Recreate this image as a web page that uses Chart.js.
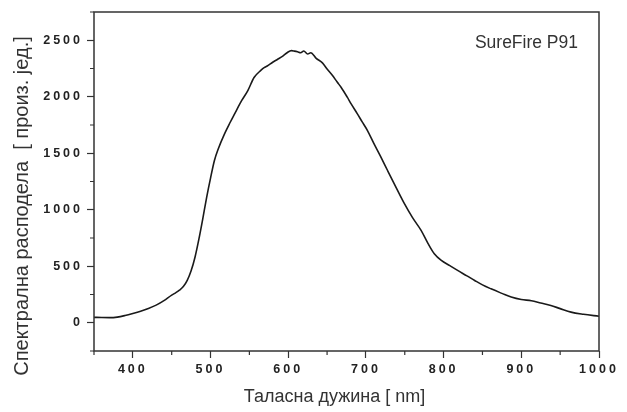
<!DOCTYPE html>
<html><head><meta charset="utf-8">
<script src="https://cdn.jsdelivr.net/npm/chart.js@4/dist/chart.umd.min.js"></script>
<style>html,body{margin:0;padding:0;background:#fff}</style>
</head><body>
<canvas id="c" width="627" height="412"></canvas>
<script>
// Spectral distribution of SureFire P91
const wavelengths = [350,360,370,380,390,400,410,420,430,440,450,455,460,465,470,475,480,485,490,495,500,505,510,518,525,531,540,548,556,565,569,573,580,586,593,599,604,608,612,616,620,625,629,636,644,650,657,663,668,676,681,689,695,702,710,719,728,736,749,760,771,780,788,797,808,818,830,840,850,861,875,887,900,913,925,938,950,964,980,1000];
const intensities = [48,46,45,50,64,82,102,126,156,196,245,265,288,320,375,460,580,740,920,1110,1280,1436,1540,1672,1770,1849,1965,2055,2170,2235,2258,2272,2305,2330,2360,2392,2408,2404,2398,2390,2405,2378,2390,2340,2300,2245,2188,2130,2084,1996,1937,1849,1780,1701,1590,1470,1345,1235,1060,930,817,700,610,551,505,463,415,374,335,300,260,227,205,195,175,153,125,94,75,58];
const xTickLabels = [400,500,600,700,800,900,1000];
const yTickLabels = [0,500,1000,1500,2000,2500];
const seriesLabel = 'SureFire P91';
const xTitle = 'Таласна дужина [ nm]';
const yTitle = 'Спектрална расподела  [ произ. јед.]';

const AX = '#333333';
const TXT = '#333333';

const framePlugin = {
  id: 'frame',
  beforeDraw(chart) {
    // shift the axis titles to where the reference places them
    const y = chart.scales.y, x = chart.scales.x;
    chart._saved = {yb: y.bottom, yt: y.top, xl: x.left};
    y.bottom += 49;
    x.left -= 24;
  },
  afterDatasetsDraw(chart) {
    const {ctx, chartArea: a, scales} = chart;
    ctx.save();
    ctx.strokeStyle = AX;
    ctx.lineWidth = 1.5;
    ctx.strokeRect(a.left, a.top, a.right - a.left, a.bottom - a.top);
    // minor ticks
    ctx.lineWidth = 1.2;
    ctx.beginPath();
    scales.x.ticks.forEach(t => {
      if (!xTickLabels.includes(t.value)) {
        const px = scales.x.getPixelForValue(t.value);
        ctx.moveTo(px, a.bottom); ctx.lineTo(px, a.bottom + 4);
      }
    });
    scales.y.ticks.forEach(t => {
      if (!yTickLabels.includes(t.value)) {
        const py = scales.y.getPixelForValue(t.value);
        ctx.moveTo(a.left, py); ctx.lineTo(a.left - 4, py);
      }
    });
    ctx.stroke();
    ctx.restore();
    ctx.letterSpacing = '3px';
  },
  afterDraw(chart) {
    const {ctx, chartArea: a} = chart;
    ctx.letterSpacing = '0px';
    const s = chart._saved;
    chart.scales.y.bottom = s.yb; chart.scales.y.top = s.yt; chart.scales.x.left = s.xl;
    ctx.save();
    ctx.font = '17.5px "Liberation Sans", Arial, sans-serif';
    ctx.fillStyle = TXT;
    ctx.textAlign = 'right';
    ctx.textBaseline = 'middle';
    ctx.fillText(seriesLabel, a.right - 21, a.top + 31);
    ctx.restore();
  }
};

new Chart(document.getElementById('c'), {
  type: 'line',
  data: {
    datasets: [{
      label: seriesLabel,
      data: wavelengths.map((w, i) => ({x: w, y: intensities[i]})),
      borderColor: '#1a1a1a',
      borderWidth: 1.6,
      pointRadius: 0,
      fill: false,
      cubicInterpolationMode: 'monotone'
    }]
  },
  options: {
    responsive: false,
    devicePixelRatio: 1,
    animation: false,
    layout: {padding: {top: 12, right: 28, left: 0, bottom: 0}},
    plugins: {legend: {display: false}, tooltip: {enabled: false}},
    scales: {
      x: {
        type: 'linear', min: 350, max: 1000,
        afterFit(s) { s.height = 61; },
        border: {display: false},
        grid: {drawOnChartArea: false, drawTicks: true, tickLength: 7, tickWidth: 1.2,
               tickColor: c => xTickLabels.includes(c.tick && c.tick.value) ? AX : 'rgba(0,0,0,0)'},
        ticks: {stepSize: 50, autoSkip: false, maxRotation: 0, padding: 4, z: 1, color: '#222',
                font: {family: '"Liberation Sans", Arial, sans-serif', size: 12.5, weight: 'bold'},
                callback: v => xTickLabels.includes(v) ? String(v) : ''},
        title: {display: true, text: xTitle, color: TXT, padding: {top: 0, bottom: 4},
                font: {family: '"Liberation Sans", Arial, sans-serif', size: 18}}
      },
      y: {
        type: 'linear', min: -250, max: 2750,
        afterFit(s) { s.width = 94; },
        border: {display: false},
        grid: {drawOnChartArea: false, drawTicks: true, tickLength: 7, tickWidth: 1.2,
               tickColor: c => yTickLabels.includes(c.tick && c.tick.value) ? AX : 'rgba(0,0,0,0)'},
        ticks: {stepSize: 250, autoSkip: false, padding: 4, z: 1, color: '#222',
                font: {family: '"Liberation Sans", Arial, sans-serif', size: 12.5, weight: 'bold'},
                callback: v => yTickLabels.includes(v) ? String(v) : ''},
        title: {display: true, text: yTitle, color: TXT, padding: {top: 10, bottom: 0},
                font: {family: '"Liberation Sans", Arial, sans-serif', size: 20}}
      }
    }
  },
  plugins: [framePlugin]
});
</script>
</body></html>
